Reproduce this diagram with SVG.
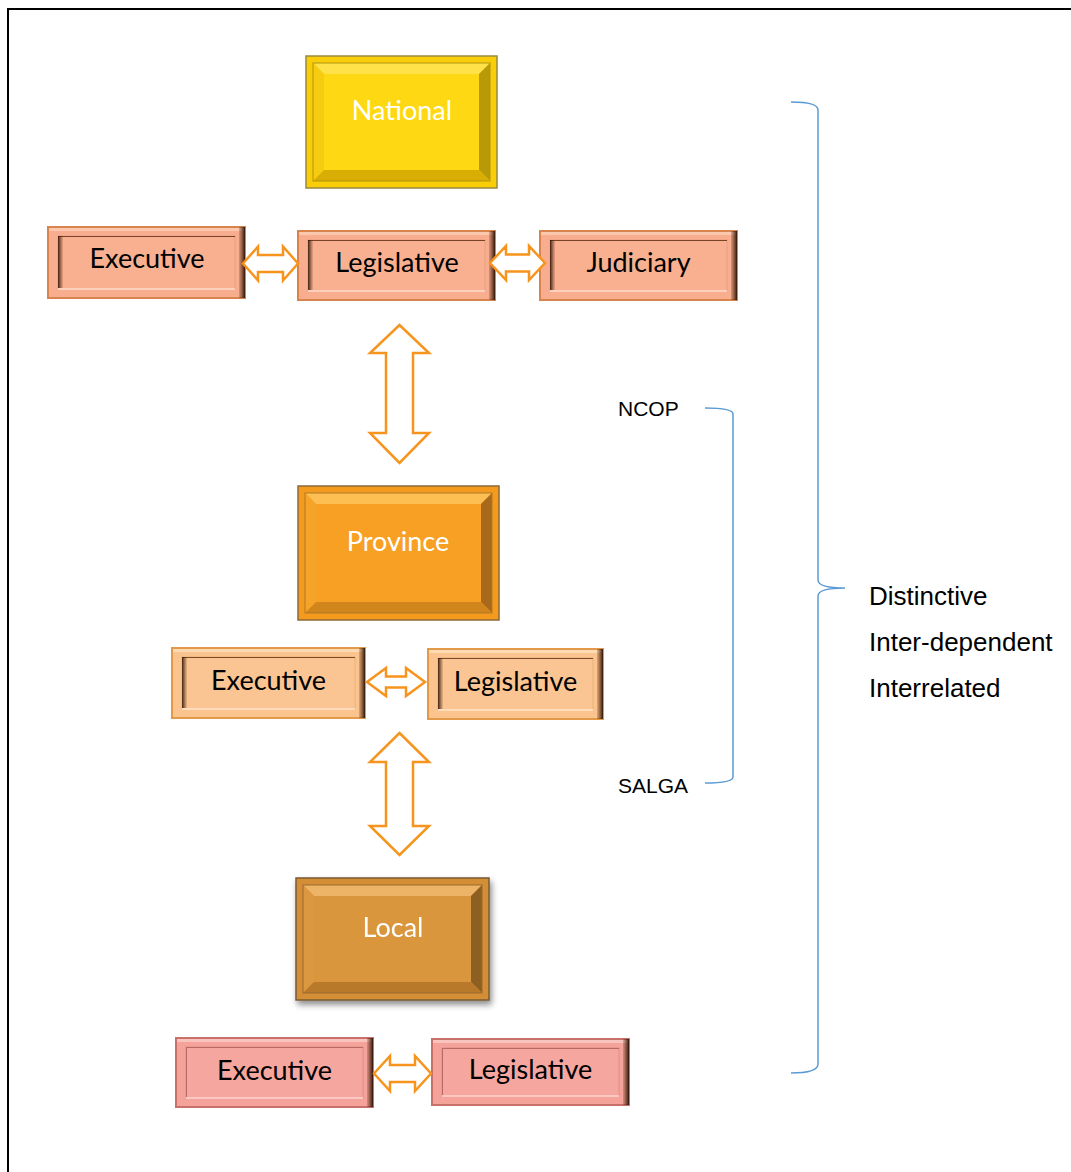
<svg xmlns="http://www.w3.org/2000/svg" width="1071" height="1172" viewBox="0 0 1071 1172">
<defs>
<style>
.lbl{font-family:Lato,"Open Sans","Liberation Sans",sans-serif;font-size:27px;fill:#000;text-anchor:middle}
.big{font-family:Lato,"Open Sans","Liberation Sans",sans-serif;font-size:27px;fill:#fff;text-anchor:middle}
.side{font-family:"Liberation Sans",Arial,sans-serif;font-size:26px;fill:#000}
.small{font-family:"Liberation Sans",Arial,sans-serif;font-size:21px;fill:#000}
.arr{fill:#fff;stroke:#F7941D;stroke-width:2.5;stroke-linejoin:miter}
.brace{fill:none;stroke:#5B9BD5;stroke-width:1.5}
</style>
<linearGradient id="shR" x1="0" x2="1" y1="0" y2="0">
<stop offset="0" stop-color="#5a2a10" stop-opacity="0.2"/>
<stop offset="1" stop-color="#2a1005" stop-opacity="0.95"/>
</linearGradient>
<linearGradient id="shL" x1="0" x2="1" y1="0" y2="0">
<stop offset="0" stop-color="#2a1005" stop-opacity="0.9"/>
<stop offset="1" stop-color="#5a2a10" stop-opacity="0.1"/>
</linearGradient>
<filter id="drop" x="-10%" y="-10%" width="125%" height="125%">
<feGaussianBlur in="SourceAlpha" stdDeviation="3"/>
<feOffset dx="2" dy="4"/>
<feComponentTransfer><feFuncA type="linear" slope="0.45"/></feComponentTransfer>
<feMerge><feMergeNode/><feMergeNode in="SourceGraphic"/></feMerge>
</filter>
</defs>
<rect width="1071" height="1172" fill="#fff"/>
<path d="M8,1172 L8,9 L1071,9" fill="none" stroke="#000" stroke-width="2"/>

<!-- National -->
<g id="national">
<rect x="306" y="56" width="191" height="132" fill="#F9CE08" stroke="#9A8840" stroke-width="1.5"/>
<polygon points="313,63 490,63 479,74 324,74" fill="#FFE24A"/>
<polygon points="313,63 324,74 324,170 313,181" fill="#F6CC10"/>
<polygon points="490,63 490,181 479,170 479,74" fill="#B89A08"/>
<polygon points="313,181 490,181 479,170 324,170" fill="#D8AE05"/>
<rect x="313" y="63" width="177" height="118" fill="none" stroke="#B09410" stroke-width="1"/>
<rect x="324" y="74" width="155" height="96" fill="#FFD814"/>
<text class="big" x="402" y="120">National</text>
</g>

<!-- National row -->
<g id="nat-exec">
<rect x="48" y="227" width="197" height="71" fill="#F8AE8E" stroke="#D7844F" stroke-width="2"/>
<rect x="49" y="228" width="195" height="3" fill="#FBC8AE"/>
<rect x="239" y="227" width="6" height="71" fill="url(#shR)"/>
<rect x="58" y="236" width="177" height="53" fill="#F8B090" stroke="#E6A080" stroke-width="1"/>
<line x1="58" y1="236.5" x2="235" y2="236.5" stroke="#7a4328" stroke-width="1"/>
<rect x="58" y="236" width="5" height="53" fill="url(#shL)"/>
<line x1="58" y1="289" x2="235" y2="289" stroke="#FCD0BA" stroke-width="2"/>
<text class="lbl" x="147" y="268">Executive</text>
</g>
<g id="nat-leg">
<rect x="298" y="231" width="197" height="69" fill="#F8AE8E" stroke="#D7844F" stroke-width="2"/>
<rect x="299" y="232" width="195" height="3" fill="#FBC8AE"/>
<rect x="489" y="231" width="6" height="69" fill="url(#shR)"/>
<rect x="308" y="240" width="177" height="51" fill="#F8B090" stroke="#E6A080" stroke-width="1"/>
<line x1="308" y1="240.5" x2="485" y2="240.5" stroke="#7a4328" stroke-width="1"/>
<rect x="308" y="240" width="5" height="51" fill="url(#shL)"/>
<line x1="308" y1="291" x2="485" y2="291" stroke="#FCD0BA" stroke-width="2"/>
<text class="lbl" x="397" y="272">Legislative</text>
</g>
<g id="nat-jud">
<rect x="540" y="231" width="197" height="69" fill="#F8AE8E" stroke="#D7844F" stroke-width="2"/>
<rect x="541" y="232" width="195" height="3" fill="#FBC8AE"/>
<rect x="731" y="231" width="6" height="69" fill="url(#shR)"/>
<rect x="550" y="240" width="177" height="51" fill="#F8B090" stroke="#E6A080" stroke-width="1"/>
<line x1="550" y1="240.5" x2="727" y2="240.5" stroke="#7a4328" stroke-width="1"/>
<rect x="550" y="240" width="5" height="51" fill="url(#shL)"/>
<line x1="550" y1="291" x2="727" y2="291" stroke="#FCD0BA" stroke-width="2"/>
<text class="lbl" x="638.5" y="272">Judiciary</text>
</g>

<!-- Province -->
<g id="province">
<rect x="298" y="486" width="201" height="134" fill="#F49A1C" stroke="#8B6A3A" stroke-width="1.5"/>
<polygon points="305,493 492,493 481,504 316,504" fill="#FDBE52"/>
<polygon points="305,493 316,504 316,602 305,613" fill="#F5A428"/>
<polygon points="492,493 492,613 481,602 481,504" fill="#A86A1A"/>
<polygon points="305,613 492,613 481,602 316,602" fill="#D0861C"/>
<rect x="305" y="493" width="187" height="120" fill="none" stroke="#B07828" stroke-width="1"/>
<rect x="316" y="504" width="165" height="98" fill="#F8A024"/>
<text class="big" x="398" y="551">Province</text>
</g>

<!-- Province row -->
<g id="prov-exec">
<rect x="172" y="648" width="193" height="70" fill="#FBC48E" stroke="#E29A4A" stroke-width="2"/>
<rect x="173" y="649" width="191" height="3" fill="#FDDAB4"/>
<rect x="359" y="648" width="6" height="70" fill="url(#shR)"/>
<rect x="182" y="657" width="173" height="52" fill="#FAC592" stroke="#EAB07A" stroke-width="1"/>
<line x1="182" y1="657.5" x2="355" y2="657.5" stroke="#7a4a28" stroke-width="1"/>
<rect x="182" y="657" width="5" height="52" fill="url(#shL)"/>
<line x1="182" y1="709" x2="355" y2="709" stroke="#FEDCBC" stroke-width="2"/>
<text class="lbl" x="268.5" y="690">Executive</text>
</g>
<g id="prov-leg">
<rect x="428" y="649" width="175" height="70" fill="#FBC48E" stroke="#E29A4A" stroke-width="2"/>
<rect x="429" y="650" width="173" height="3" fill="#FDDAB4"/>
<rect x="597" y="649" width="6" height="70" fill="url(#shR)"/>
<rect x="438" y="658" width="155" height="52" fill="#FAC592" stroke="#EAB07A" stroke-width="1"/>
<line x1="438" y1="658.5" x2="593" y2="658.5" stroke="#7a4a28" stroke-width="1"/>
<rect x="438" y="658" width="5" height="52" fill="url(#shL)"/>
<line x1="438" y1="710" x2="593" y2="710" stroke="#FEDCBC" stroke-width="2"/>
<text class="lbl" x="515.5" y="691">Legislative</text>
</g>

<!-- Local -->
<g id="local" filter="url(#drop)">
<rect x="296" y="878" width="193" height="122" fill="#D48E36" stroke="#7A5A30" stroke-width="1.5"/>
<polygon points="303,885 482,885 471,896 314,896" fill="#EDB468"/>
<polygon points="303,885 314,896 314,982 303,993" fill="#DC9840"/>
<polygon points="482,885 482,993 471,982 471,896" fill="#8E5E22"/>
<polygon points="303,993 482,993 471,982 314,982" fill="#B87A2C"/>
<rect x="303" y="885" width="179" height="108" fill="none" stroke="#9A6A30" stroke-width="1"/>
<rect x="314" y="896" width="157" height="86" fill="#DA963C"/>
<text class="big" x="393" y="937">Local</text>
</g>

<!-- Local row -->
<g id="loc-exec">
<rect x="176" y="1038" width="197" height="69" fill="#F4A29A" stroke="#C8706A" stroke-width="2"/>
<rect x="177" y="1039" width="195" height="3" fill="#F9C4BE"/>
<rect x="367" y="1038" width="6" height="69" fill="url(#shR)"/>
<rect x="186" y="1047" width="177" height="51" fill="#F5A69E" stroke="#E0908A" stroke-width="1"/>
<line x1="186" y1="1047.5" x2="363" y2="1047.5" stroke="#B86A64" stroke-width="1"/>
<line x1="186.5" y1="1047" x2="186.5" y2="1098" stroke="#B86A64" stroke-width="1"/>
<line x1="186" y1="1098" x2="363" y2="1098" stroke="#FAC8C2" stroke-width="2"/>
<text class="lbl" x="274.5" y="1080">Executive</text>
</g>
<g id="loc-leg">
<rect x="432" y="1039" width="197" height="66" fill="#F4A29A" stroke="#C8706A" stroke-width="2"/>
<rect x="433" y="1040" width="195" height="3" fill="#F9C4BE"/>
<rect x="623" y="1039" width="6" height="66" fill="url(#shR)"/>
<rect x="442" y="1048" width="177" height="48" fill="#F5A69E" stroke="#E0908A" stroke-width="1"/>
<line x1="442" y1="1048.5" x2="619" y2="1048.5" stroke="#B86A64" stroke-width="1"/>
<line x1="442.5" y1="1048" x2="442.5" y2="1096" stroke="#B86A64" stroke-width="1"/>
<line x1="442" y1="1096" x2="619" y2="1096" stroke="#FAC8C2" stroke-width="2"/>
<text class="lbl" x="530.5" y="1079">Legislative</text>
</g>

<!-- Connectors -->
<g id="connectors">
<path class="arr" d="M243,263.5 L258,246.5 L258,255 L283,255 L283,246.5 L298,263.5 L283,280.5 L283,272 L258,272 L258,280.5 Z"/>
<path class="arr" d="M490,263 L506,246 L506,254.5 L529,254.5 L529,246 L545,263 L529,280 L529,271.5 L506,271.5 L506,280 Z"/>
<path class="arr" d="M399.5,325 L429,353 L413,353 L413,433 L429,433 L399.5,463 L370,433 L386,433 L386,353 L370,353 Z"/>
<path class="arr" d="M367,682 L386,668 L386,676.5 L406,676.5 L406,668 L425,682 L406,696 L406,687.5 L386,687.5 L386,696 Z"/>
<path class="arr" d="M399.5,733 L429,762 L413,762 L413,826 L429,826 L399.5,855 L370,826 L386,826 L386,762 L370,762 Z"/>
<path class="arr" d="M374,1073.5 L390,1056 L390,1065 L415,1065 L415,1056 L431,1073.5 L415,1091 L415,1082 L390,1082 L390,1091 Z"/>
<path class="brace" d="M705,408 Q733,408 733,414 L733,777 Q733,783 705,783"/>
<path class="brace" d="M791,102 Q818,102 818,110 L818,580 Q818,588 845,588 Q818,588 818,596 L818,1064 Q818,1073 791,1073"/>
</g>

<text class="small" x="618" y="416">NCOP</text>
<text class="small" x="618" y="793">SALGA</text>
<text class="side" x="869" y="605">Distinctive</text>
<text class="side" x="869" y="651">Inter-dependent</text>
<text class="side" x="869" y="697">Interrelated</text>
</svg>
